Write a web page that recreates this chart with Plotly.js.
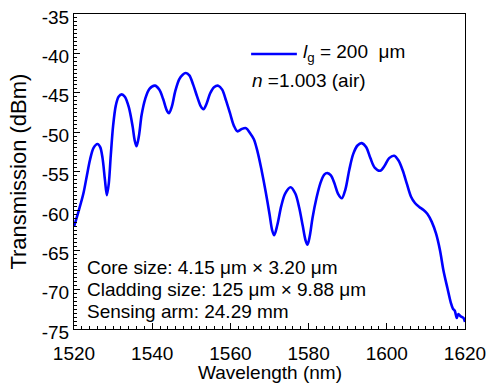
<!DOCTYPE html>
<html>
<head>
<meta charset="utf-8">
<script src="https://cdn.plot.ly/plotly-3.0.1.min.js"></script>
<style>html,body{margin:0;padding:0;background:#fff;}#chart{width:487px;height:385px;}</style>
</head>
<body>
<div id="chart"></div>
<script>
const wavelength = [1520, 1521.2, 1522.4, 1523.3, 1524.1, 1525.0, 1526.0, 1526.7, 1527.3, 1527.9, 1528.4,
  1528.9, 1529.4, 1530.0, 1530.7, 1531.4, 1532.2,
  1533.0, 1534.0, 1535.0, 1535.5, 1536.0,
  1536.6, 1537.3, 1538.2, 1539.3, 1540.7,
  1541.8, 1542.8, 1543.7, 1544.3,
  1545.0, 1545.9, 1546.9, 1547.8, 1548.6,
  1549.5, 1550.5, 1551.5, 1552.4, 1553.1,
  1553.9, 1554.8, 1555.8, 1556.9,
  1557.9, 1558.9, 1559.9, 1560.9, 1561.8,
  1562.9, 1564.0, 1565.0,
  1566.0, 1567.0, 1568.0, 1569.0, 1570.0, 1570.7, 1571.2,
  1572.0, 1573.0, 1574.0, 1575.4,
  1576.6, 1577.6, 1578.5, 1579.2, 1579.7,
  1580.3, 1581.0, 1582.0, 1583.0, 1584.0, 1584.8,
  1585.7, 1586.6, 1587.5, 1588.5,
  1589.4, 1590.4, 1591.4, 1592.5, 1593.6,
  1594.7, 1595.8, 1596.9, 1598.3,
  1599.4, 1600.6, 1601.9,
  1603.0, 1604.1, 1605.1, 1606.2, 1607.2, 1608.3, 1609.4, 1610.4, 1611.5, 1612.6,
  1613.6, 1614.5, 1615.5, 1616.4, 1616.9, 1617.4, 1617.9, 1618.3, 1618.9, 1619.6, 1620];
const transmission = [-62.0, -60.0, -57.8, -55.5, -53.5, -52.0, -51.5, -51.9, -53.3, -56.0, -58.0,
  -56.5, -53.0, -49.2, -46.6, -45.5, -45.2,
  -45.5, -46.8, -49.3, -51.0, -51.8,
  -50.5, -47.8, -45.8, -44.5, -44.1,
  -44.6, -45.8, -47.2, -47.6,
  -46.8, -44.8, -43.3, -42.7, -42.5,
  -42.8, -44.0, -45.5, -46.7, -47.1,
  -46.4, -45.1, -44.3, -44.1,
  -44.6, -46.0, -47.6, -49.2, -49.9,
  -49.6, -49.5, -50.1,
  -50.9, -52.6, -54.9, -57.5, -60.4, -62.5, -63.1,
  -61.8, -59.4, -57.8, -57.0,
  -57.8, -59.6, -61.9, -63.7, -64.3,
  -63.2, -60.9, -58.4, -56.5, -55.4, -55.2,
  -55.5, -56.5, -57.8, -58.4,
  -57.3, -54.8, -52.8, -51.7, -51.4,
  -51.9, -53.3, -54.5, -54.9,
  -54.3, -53.3, -53.0,
  -53.6, -54.9, -56.5, -58.2, -59.0, -59.5, -59.9, -60.4, -61.4, -62.9,
  -65.0, -67.6, -69.8, -71.7, -72.4, -72.7, -73.6, -73.1, -73.4, -73.6, -74.1];
const xTickVals = [1520, 1540, 1560, 1580, 1600, 1620];
const xTickText = ['1520', '1540', '1560', '1580', '1600', '1620'];
const yTickVals = [-75, -70, -65, -60, -55, -50, -45, -40, -35];
const yTickText = ['-75', '-70', '-65', '-60', '-55', '-50', '-45', '-40', '-35'];
const xTitle = 'Wavelength (nm)';
const yTitle = 'Transmission (dBm)';
const legendLabel = '<i>l</i><sub>g</sub> = 200\u00a0\u00a0μm';
const indexLabel = '<i>n</i> =1.003 (air)';
const infoLines = ['Core size: 4.15 μm × 3.20 μm', 'Cladding size: 125 μm × 9.88 μm', 'Sensing arm: 24.29 mm'];

const FONT = 'Liberation Sans, Arial, sans-serif';
const trace = {
  x: wavelength, y: transmission, type: 'scatter', mode: 'lines',
  line: {color: '#0000ff', width: 2.6, shape: 'spline', smoothing: 0.9},
  showlegend: false, hoverinfo: 'skip'
};
const infoY = [0.194, 0.124, 0.054];
const annotations = infoLines.map((t, i) => ({
  text: t, xref: 'paper', yref: 'paper', x: 0.028, y: infoY[i],
  xanchor: 'left', yanchor: 'middle', showarrow: false,
  font: {family: FONT, size: 19, color: '#000'}
}));
annotations.push({text: legendLabel, xref: 'paper', yref: 'paper', x: 0.581, y: 0.876,
  xanchor: 'left', yanchor: 'middle', showarrow: false, font: {family: FONT, size: 19, color: '#000'}});
annotations.push({text: indexLabel, xref: 'paper', yref: 'paper', x: 0.450, y: 0.790,
  xanchor: 'left', yanchor: 'middle', showarrow: false, font: {family: FONT, size: 19, color: '#000'}});
annotations.push({text: yTitle, xref: 'paper', yref: 'paper', x: -0.143, y: 0.5, textangle: -90,
  xanchor: 'center', yanchor: 'middle', showarrow: false, font: {family: FONT, size: 22, color: '#000'}});
annotations.push({text: xTitle, xref: 'paper', yref: 'paper', x: 0.5, y: -0.137,
  xanchor: 'center', yanchor: 'middle', showarrow: false, font: {family: FONT, size: 19, color: '#000'}});

const layout = {
  width: 487, height: 385,
  margin: {l: 74, r: 22, t: 14, b: 56},
  paper_bgcolor: '#fff', plot_bgcolor: '#fff',
  font: {family: FONT, size: 19, color: '#000'},
  xaxis: {
    range: [1520, 1620], tickmode: 'array', tickvals: xTickVals, ticktext: xTickText,
    ticks: 'inside', ticklen: 6, tickwidth: 1, tickcolor: '#000',
    minor: {dtick: 2, ticks: 'inside', ticklen: 3, tickcolor: '#000', tickwidth: 1},
    showline: true, linecolor: '#000', linewidth: 1, mirror: true, showgrid: false, zeroline: false,
    tickfont: {family: FONT, size: 19}, ticklabelstandoff: 7, automargin: false
  },
  yaxis: {
    range: [-75, -35], tickmode: 'array', tickvals: yTickVals, ticktext: yTickText,
    ticks: 'inside', ticklen: 6, tickwidth: 1, tickcolor: '#000',
    minor: {dtick: 0.5, ticks: 'inside', ticklen: 3, tickcolor: '#000', tickwidth: 1},
    showline: true, linecolor: '#000', linewidth: 1, mirror: true, showgrid: false, zeroline: false,
    tickfont: {family: FONT, size: 19}, ticklabelshift: 3, automargin: false
  },
  shapes: [{type: 'line', xref: 'paper', yref: 'paper', x0: 0.453, x1: 0.570, y0: 0.873, y1: 0.873,
    line: {color: '#0000ff', width: 2.5}}],
  annotations: annotations
};
Plotly.newPlot('chart', [trace], layout, {displayModeBar: false, staticPlot: true});
</script>
</body>
</html>
